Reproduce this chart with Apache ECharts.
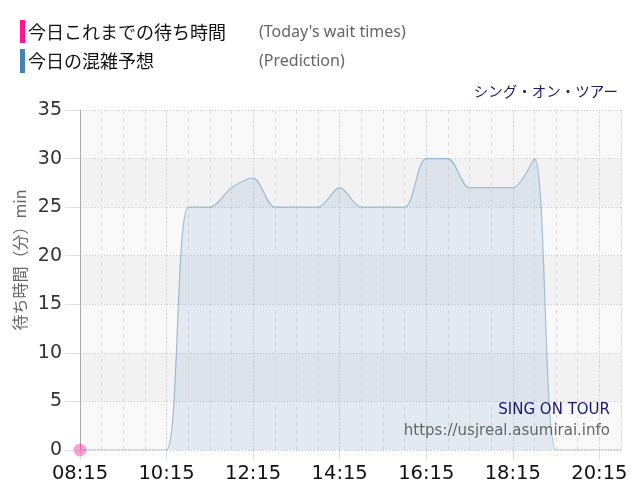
<!DOCTYPE html>
<html>
<head>
<meta charset="utf-8">
<script src="https://cdn.jsdelivr.net/npm/echarts@6/dist/echarts.min.js"></script>
<style>html,body{margin:0;padding:0;background:#fff}#c{width:640px;height:500px}</style>
</head>
<body>
<div id="c"></div>
<script>
// Data
var times = ['08:15','08:45','09:15','09:45','10:15','10:45','11:15','11:45','12:15','12:45','13:15','13:45','14:15','14:45','15:15','15:45','16:15','16:45','17:15','17:45','18:15','18:45','19:15','19:45','20:15','20:45'];
var prediction = [0,0,0,0,0,25,25,27,28,25,25,25,27,25,25,25,30,30,27,27,27,30,0,0,0,0];
var todayTimes = ['08:15'];
var todayValues = [0];
var yTicks = [0,5,10,15,20,25,30,35];

var START = 8*60+15;
function toMin(t){var p=t.split(':');return (+p[0])*60+(+p[1])-START;}
function fmt(v){var m=v+START;var h=Math.floor(m/60),mm=m%60;return (h<10?'0':'')+h+':'+(mm<10?'0':'')+mm;}

var predData = times.map(function(t,i){return [toMin(t),prediction[i]];});
var todayData = todayTimes.map(function(t,i){return [toMin(t),todayValues[i]];});
var xMax = toMin(times[times.length-1]);

var chart = echarts.init(document.getElementById('c'));
chart.setOption({
  animation:false,
  grid:{left:80,top:110,right:19,bottom:50},
  xAxis:[{
    type:'value',min:0,max:xMax,interval:120,
    axisLine:{show:false},
    axisTick:{show:true,length:10,lineStyle:{color:'#dddddd'}},
    axisLabel:{formatter:fmt,showMaxLabel:false,fontSize:19.5,color:'#111',fontFamily:'DejaVu Sans',margin:14},
    splitLine:{show:true,lineStyle:{color:'#c4c4c4',type:[1,2]}}
  },{
    type:'value',min:0,max:xMax,interval:30,position:'bottom',
    axisLine:{show:false},axisTick:{show:false},axisLabel:{show:false},
    splitLine:{show:true,lineStyle:{color:'#dedede',type:[4,4]}}
  }],
  yAxis:{
    type:'value',min:yTicks[0],max:yTicks[yTicks.length-1],interval:5,
    axisLine:{show:true,lineStyle:{color:'#aaaaaa'}},
    axisTick:{show:true,length:15,lineStyle:{color:'#e0e0e0'}},
    axisLabel:{fontSize:19,color:'#333',fontFamily:'DejaVu Sans',margin:18},
    splitLine:{show:true,lineStyle:{color:'#c4c4c4',type:[1,2]}},
    splitArea:{show:true,areaStyle:{color:['#f9f9f9','#f2f2f2']}}
  },
  series:[{
    type:'line',data:predData,smooth:0.3,symbol:'none',xAxisIndex:0,
    lineStyle:{color:'rgba(70,130,180,0.45)',width:1.2},
    areaStyle:{color:'rgba(70,130,180,0.18)'}
  },{
    type:'scatter',data:todayData,symbolSize:13,
    itemStyle:{color:'rgba(255,20,147,0.5)'}
  }],
  graphic:[
    {type:'rect',z:100,shape:{x:20,y:20,width:5,height:23},style:{fill:'#ff1493'}},
    {type:'rect',z:100,shape:{x:20,y:49,width:5,height:24},style:{fill:'#4682b4'}},
    {type:'text',z:100,x:28,y:32,style:{text:'今日これまでの待ち時間',font:'18px "Noto Sans CJK JP"',fill:'#111',verticalAlign:'middle'}},
    {type:'text',z:100,x:28,y:61,style:{text:'今日の混雑予想',font:'18px "Noto Sans CJK JP"',fill:'#111',verticalAlign:'middle'}},
    {type:'text',z:100,x:259,y:32,style:{text:"(Today's wait times)",font:'16px "Noto Sans"',fill:'#666',verticalAlign:'middle'}},
    {type:'text',z:100,x:259,y:61,style:{text:'(Prediction)',font:'16px "Noto Sans"',fill:'#666',verticalAlign:'middle'}},
    {type:'text',z:100,x:618,y:91,style:{text:'シング・オン・ツアー',font:'14.5px "Noto Sans CJK JP"',fill:'#191970',align:'right',verticalAlign:'middle'}},
    {type:'text',z:100,x:20,y:260,rotation:Math.PI/2,style:{text:'待ち時間（分）min',font:'16px "Noto Sans CJK JP"',fill:'#666',align:'center',verticalAlign:'middle'}},
    {type:'text',z:100,x:610,y:410,style:{text:'SING ON TOUR',font:'15px "DejaVu Sans"',fill:'#191970',align:'right',verticalAlign:'middle'}},
    {type:'text',z:100,x:610,y:431,style:{text:'https://usjreal.asumirai.info',font:'15px "DejaVu Sans"',fill:'#666',align:'right',verticalAlign:'middle'}}
  ]
});
</script>
</body>
</html>
